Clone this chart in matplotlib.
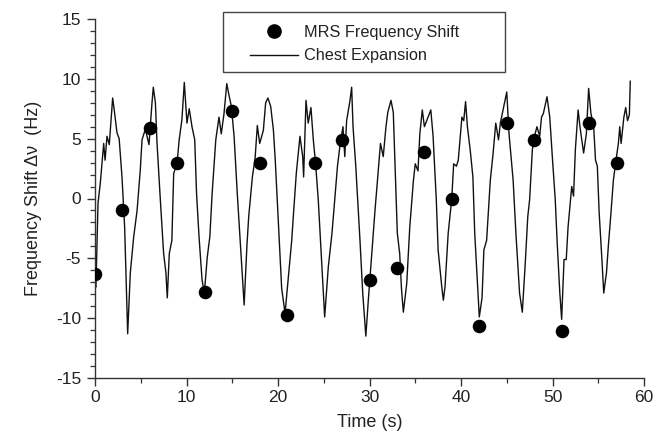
import matplotlib
matplotlib.use("Agg")
import matplotlib.pyplot as plt
from matplotlib.ticker import MultipleLocator
from matplotlib.patches import Rectangle
from matplotlib.lines import Line2D

plt.rcParams['font.family'] = ['Liberation Sans', 'DejaVu Sans']
plt.rcParams['axes.unicode_minus'] = False

# MRS frequency shift samples
mrs_time = [0, 3, 6, 9, 12, 15, 18, 21, 24, 27, 30, 33, 36, 39, 42, 45, 48, 51, 54, 57]
mrs_shift = [-6.3, -1.0, 5.9, 3.0, -7.8, 7.3, 3.0, -9.7, 3.0, 4.9, -6.8, -5.8, 3.9, 0.0,
             -10.65, 6.3, 4.9, -11.1, 6.3, 3.0]

# Chest expansion trace
chest_time = [0.0, 0.1, 0.33, 0.58, 0.95, 1.1, 1.31, 1.56, 1.93, 2.15, 2.4, 2.64, 2.95, 3.24,
              3.57, 3.86, 4.23, 4.6, 4.95, 5.14, 5.5, 5.9, 6.23, 6.37, 6.6, 6.78, 7.14, 7.5,
              7.75, 7.9, 8.12, 8.4, 8.6, 8.96, 9.2, 9.5, 9.76, 10.05, 10.3, 10.6, 10.9, 11.1,
              11.37, 11.7, 11.95, 12.27, 12.55, 12.8, 13.2, 13.55, 13.8, 14.1, 14.4, 14.6,
              14.9, 15.2, 15.55, 15.9, 16.3, 16.6, 16.8, 17.2, 17.5, 17.74, 18.0, 18.4, 18.65,
              18.9, 19.2, 19.5, 19.7, 20.1, 20.4, 20.77, 21.3, 21.5, 21.7, 22.0, 22.4, 22.7,
              22.8, 23.06, 23.3, 23.6, 23.86, 24.1, 24.4, 24.8, 25.1, 25.5, 25.9, 26.2, 26.5,
              26.8, 27.1, 27.3, 27.5, 27.87, 28.05, 28.2, 28.5, 28.8, 28.96, 29.26, 29.6,
              29.87, 30.2, 30.6, 30.96, 31.2, 31.5, 31.8, 32.0, 32.35, 32.6, 32.8, 33.04,
              33.3, 33.5, 33.7, 34.07, 34.4, 34.8, 35.0, 35.3, 35.5, 35.77, 36.0, 36.4, 36.7,
              36.95, 37.3, 37.5, 37.9, 38.07, 38.25, 38.6, 38.98, 39.2, 39.5, 39.7, 40.1,
              40.3, 40.5, 40.7, 41.0, 41.3, 41.5, 41.8, 42.0, 42.3, 42.5, 42.8, 43.2, 43.5,
              43.8, 44.1, 44.3, 44.6, 45.0, 45.25, 45.4, 45.7, 46.0, 46.4, 46.7, 47.0, 47.3,
              47.5, 47.8, 48.1, 48.3, 48.6, 48.8, 49.0, 49.4, 49.7, 49.98, 50.3, 50.5, 50.8,
              51.0, 51.26, 51.5, 51.7, 52.1, 52.3, 52.5, 52.8, 53.0, 53.2, 53.4, 53.7, 53.85,
              53.95, 54.2, 54.5, 54.7, 54.9, 55.1, 55.4, 55.6, 55.9, 56.1, 56.36, 56.65, 56.9,
              57.2, 57.35, 57.5, 57.8, 58.0, 58.2, 58.4, 58.5]
chest_value = [-7.3, -7.4, -0.4, 1.3, 4.6, 3.2, 5.2, 4.5, 8.4, 7.1, 5.5, 5.0, 1.8, -2.4,
               -11.3, -6.2, -3.2, -1.0, 2.4, 4.9, 5.8, 4.5, 8.0, 9.3, 8.0, 4.6, -0.1, -4.6,
               -6.2, -8.3, -4.6, -3.5, 2.1, 2.9, 4.9, 6.6, 9.7, 6.3, 7.5, 6.0, 4.9, 0.4,
               -3.2, -6.8, -7.9, -4.9, -3.2, 0.4, 4.9, 6.8, 5.4, 7.1, 9.6, 8.8,
               7.7, 5.2, 0.4, -4.0, -8.9, -4.0, -1.5, 1.8, 3.4, 6.1, 4.6, 5.7, 8.0,
               8.4, 7.7, 5.7, 3.2, -2.9, -7.5, -9.6, -5.1, -3.5, -1.2, 2.1, 5.2, 3.5,
               1.8, 8.2, 6.3, 7.6, 4.9, 3.0, -0.1, -5.7, -9.9, -5.7, -2.9, -0.1, 2.7,
               4.6, 6.0, 3.5, 6.5, 8.2, 9.3, 6.0, 2.7, -1.4, -3.5, -7.9, -11.5,
               -8.5, -5.1, -1.0, 2.4, 4.6, 3.5, 6.0, 7.2, 8.2, 7.2, 2.7, -2.9,
               -4.6, -7.6, -9.5, -7.1, -2.4, 1.5, 2.9, 2.3, 5.4, 7.4, 6.0, 6.8, 7.4,
               5.2, -0.1, -4.3, -7.4, -8.5, -7.4, -2.9, -0.1, 2.9, 2.7, 3.2, 6.8,
               6.5, 8.1, 6.0, 4.1, 1.8, -2.9, -7.1, -9.9, -8.3, -4.3, -3.5, 1.5, 3.7,
               6.3, 4.9, 6.3, 7.4, 8.9, 5.4, 4.1, 1.5, -2.9, -7.9, -9.5, -5.7, -1.5,
               -0.1, 4.1, 5.4, 6.0, 5.2, 6.8, 7.1, 8.5, 6.8, 3.5, -0.1, -3.5, -7.9,
               -10.1, -5.1, -5.1, -2.4, 1.0, 0.2, 4.1, 7.4, 6.0, 4.9, 3.8, 5.4, 7.6,
               9.2, 7.1, 6.0, 3.2, 2.7, -1.2, -5.1, -7.9, -6.2, -4.0, -1.5, 1.5, 3.0,
               4.6, 6.0, 4.6, 6.8, 7.6, 6.5, 7.0, 9.8]

W, H = 670, 442
fig = plt.figure(figsize=(W / 100, H / 100), dpi=100)
ax = fig.add_axes([95 / W, (H - 378) / H, 549 / W, 359 / H])

txt = '#222222'
ax.plot(chest_time, chest_value, color='#111111', lw=1.0, zorder=2)
ax.scatter(mrs_time, mrs_shift, s=95, color='black', zorder=3, linewidths=0)

ax.set_xlim(0, 60)
ax.set_ylim(-15, 15)
ax.xaxis.set_major_locator(MultipleLocator(10))
ax.xaxis.set_minor_locator(MultipleLocator(5))
ax.yaxis.set_major_locator(MultipleLocator(5))
ax.yaxis.set_minor_locator(MultipleLocator(1))
for s in ['top', 'right']:
    ax.spines[s].set_visible(False)
for s in ['left', 'bottom']:
    ax.spines[s].set_color('#333333')
    ax.spines[s].set_linewidth(1.0)
ax.tick_params(which='major', direction='out', length=6, width=1.0, color='#333333',
               labelsize=12.5, labelcolor=txt, pad=3)
ax.tick_params(which='minor', direction='out', length=3.5, width=0.9, color='#333333')
ax.tick_params(axis='y', which='major', pad=4)

ax.set_xlabel('Time (s)', fontsize=13, color=txt, labelpad=6)
ax.set_ylabel('Frequency Shift \u0394\u03bd  (Hz)', fontsize=13, color=txt, labelpad=10)

handles = [Line2D([], [], marker='o', ls='none', color='black', markersize=9.5),
           Line2D([], [], color='#111111', lw=1.0)]
labels = ['MRS Frequency Shift', 'Chest Expansion']
leg = fig.legend(handles, labels, loc='upper left',
                 bbox_to_anchor=(242 / W, 1 - 17 / H), bbox_transform=fig.transFigure,
                 frameon=False, borderpad=0, fontsize=11.7, handlelength=2.95,
                 handletextpad=0.35, labelspacing=0.5)
for t in leg.get_texts():
    t.set_color(txt)

fig.patches.append(Rectangle((223 / W, 1 - 72 / H), (505 - 223) / W, 60 / H,
                             transform=fig.transFigure, fill=False,
                             edgecolor='#444444', lw=1.0))

fig.savefig('out.png', dpi=100)
